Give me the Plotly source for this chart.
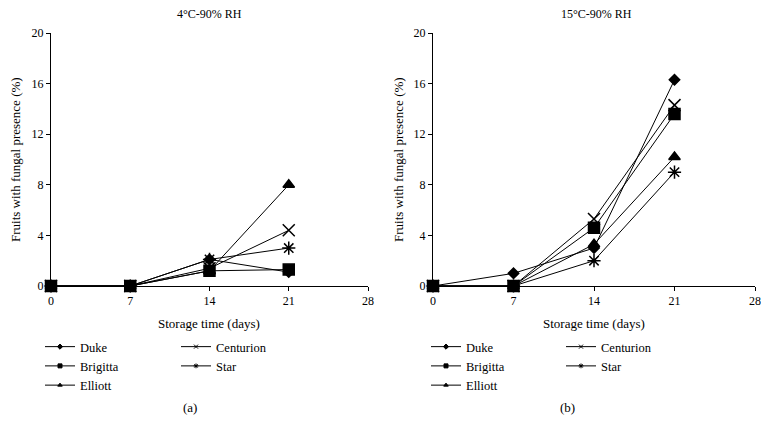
import plotly.graph_objects as go

days = [0, 7, 14, 21]
x_ticks = [0, 7, 14, 21, 28]
y_ticks = [0, 4, 8, 12, 16, 20]
cultivars = ["Duke", "Brigitta", "Elliott", "Centurion", "Star"]

# 4°C - 90% RH
duke_4 = [0, 0, 2.1, 1.1]
brigitta_4 = [0, 0, 1.2, 1.3]
elliott_4 = [0, 0, 1.2, 8.0]
centurion_4 = [0, 0, 1.4, 4.4]
star_4 = [0, 0, 2.1, 3.0]

# 15°C - 90% RH
duke_15 = [0, 1.0, 3.0, 16.3]
brigitta_15 = [0, 0, 4.6, 13.6]
elliott_15 = [0, 0, 3.3, 10.2]
centurion_15 = [0, 0, 5.3, 14.3]
star_15 = [0, 0, 2.0, 9.0]

panel_titles = ["4°C-90% RH", "15°C-90% RH"]
panel_labels = ["(a)", "(b)"]

symbols = ["diamond", "square", "triangle-up", "x-thin-open", "asterisk-open"]
sizes = [8, 11, 10, 12, 11]

FONT = "Times New Roman, Liberation Serif, DejaVu Serif, serif"

# page body has an 8px margin: figure is placed at (8, 8) in the window
OFF = 8
W, H = 769 - OFF, 421 - OFF


def fx(px):
    return (px - OFF) / W


def fy(py):
    return 1 - (py - OFF) / H


fig = go.Figure()

panels = [
    [duke_4, brigitta_4, elliott_4, centurion_4, star_4],
    [duke_15, brigitta_15, elliott_15, centurion_15, star_15],
]

for p, series in enumerate(panels):
    xa = "x" if p == 0 else "x2"
    ya = "y" if p == 0 else "y2"
    for i, name in enumerate(cultivars):
        fig.add_trace(go.Scatter(
            x=days, y=series[i], mode="lines+markers", name=name,
            xaxis=xa, yaxis=ya, showlegend=False, cliponaxis=False,
            line=dict(color="black", width=1),
            marker=dict(symbol=symbols[i], size=sizes[i], color="black",
                        line=dict(color="black", width=1.5)),
        ))
    # legend-only entries with small markers
    for i, name in enumerate(cultivars):
        lg_index = 2 * p + (1 if i < 3 else 2)
        lg = "legend" if lg_index == 1 else f"legend{lg_index}"
        fig.add_trace(go.Scatter(
            x=[None], y=[None], mode="lines+markers", name=name,
            xaxis=xa, yaxis=ya, showlegend=True, legend=lg,
            line=dict(color="black", width=1),
            marker=dict(symbol=symbols[i], size=4, color="black",
                        line=dict(color="black", width=1)),
        ))

ydom = [fy(286), fy(33)]
axis_common = dict(showline=True, linecolor="black", linewidth=1, ticks="outside",
                   ticklen=4, tickcolor="black", showgrid=False, zeroline=False,
                   automargin=False,
                   tickfont=dict(family=FONT, size=12, color="black"))

fig.update_layout(
    width=W, height=H, margin=dict(l=0, r=0, t=0, b=0, autoexpand=False),
    plot_bgcolor="white", paper_bgcolor="white",
    font=dict(family=FONT, size=13, color="black"),
    xaxis=dict(domain=[fx(51), fx(368)], range=[0, 28], tickvals=x_ticks,
               anchor="y", **axis_common),
    yaxis=dict(domain=ydom, range=[0, 20], tickvals=y_ticks, anchor="x", **axis_common),
    xaxis2=dict(domain=[fx(433), fx(755)], range=[0, 28], tickvals=x_ticks,
                anchor="y2", **axis_common),
    yaxis2=dict(domain=ydom, range=[0, 20], tickvals=y_ticks, anchor="x2", **axis_common),
)

leg_common = dict(orientation="v", yanchor="top", xanchor="left", y=fy(332),
                  bgcolor="rgba(0,0,0,0)", tracegroupgap=0,
                  font=dict(family=FONT, size=12.5, color="black"))
fig.update_layout(
    legend=dict(x=fx(40), **leg_common),
    legend2=dict(x=fx(176), **leg_common),
    legend3=dict(x=fx(426), **leg_common),
    legend4=dict(x=fx(561), **leg_common),
)

# titles, axis titles, panel labels
centers_x = [209, 594]
title_x = [210, 596]
ytitle_x = [15, 398]
label_x = [190, 567]
for p in range(2):
    fig.add_annotation(text=panel_titles[p], x=fx(title_x[p]), y=fy(14),
                       xref="paper", yref="paper", showarrow=False,
                       font=dict(family=FONT, size=12), xanchor="center", yanchor="middle")
    fig.add_annotation(text="Storage time (days)", x=fx(centers_x[p]), y=fy(323),
                       xref="paper", yref="paper", showarrow=False,
                       font=dict(family=FONT, size=13), xanchor="center", yanchor="middle")
    fig.add_annotation(text="Fruits with fungal presence (%)", x=fx(ytitle_x[p]),
                       y=fy(160), xref="paper", yref="paper", showarrow=False,
                       textangle=-90, font=dict(family=FONT, size=13),
                       xanchor="center", yanchor="middle")
    fig.add_annotation(text=panel_labels[p], x=fx(label_x[p]), y=fy(407),
                       xref="paper", yref="paper", showarrow=False,
                       font=dict(family=FONT, size=13), xanchor="center", yanchor="middle")

fig.write_html("out.html")
